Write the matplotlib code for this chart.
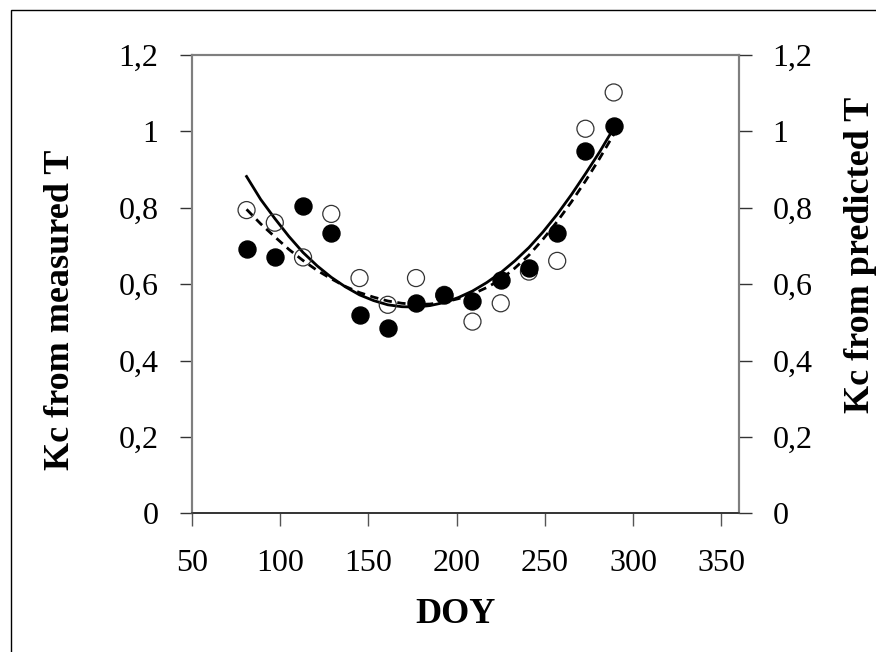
import matplotlib
matplotlib.use('Agg')
import matplotlib.pyplot as plt
import matplotlib.patches as patches

# sampling dates (DOY)
doy = [81, 97, 113, 129, 145, 161, 177, 193, 209, 225, 241, 257, 273, 289]

# Kc from measured T (filled) and from predicted T (open)
kc_meas = [0.691, 0.670, 0.805, 0.733, 0.519, 0.485, 0.552, 0.572, 0.557, 0.611, 0.643, 0.735, 0.950, 1.015]
kc_pred = [0.794, 0.761, 0.670, 0.784, 0.616, 0.546, 0.616, 0.572, 0.502, 0.550, 0.633, 0.661, 1.007, 1.102]

# trend lines
doy_fit = [81, 89, 97, 105, 113, 121, 129, 137, 145, 153, 161, 169, 177, 185,
           193, 201, 209, 217, 225, 233, 241, 249, 257, 265, 273, 281, 289]
fit_meas = [0.882, 0.822, 0.772, 0.725, 0.683, 0.648, 0.618, 0.593, 0.572, 0.557,
            0.546, 0.541, 0.540, 0.544, 0.552, 0.565, 0.582, 0.604, 0.630, 0.661,
            0.696, 0.737, 0.783, 0.834, 0.889, 0.946, 1.008]
fit_pred = [0.796, 0.758, 0.724, 0.691, 0.662, 0.636, 0.614, 0.594, 0.578, 0.566,
            0.556, 0.550, 0.547, 0.548, 0.553, 0.562, 0.574, 0.591, 0.612, 0.642,
            0.676, 0.718, 0.764, 0.815, 0.870, 0.929, 0.992]

xticks = [50, 100, 150, 200, 250, 300, 350]
yticks = [0, 0.2, 0.4, 0.6, 0.8, 1.0, 1.2]
ylabels = ['0', '0,2', '0,4', '0,6', '0,8', '1', '1,2']

plt.rcParams['font.family'] = ['Liberation Serif', 'DejaVu Serif']

fig = plt.figure(figsize=(8.76, 6.52), dpi=100)
ax = fig.add_axes([0.219, 0.2127, 0.8436 - 0.219, 0.9156 - 0.2127])

# outer frame (only left and top edges fall inside the picture)
fig.add_artist(patches.Rectangle((11 / 876, -0.1), 2.0, 1.1 - 10 / 652,
                                 transform=fig.transFigure, fill=False,
                                 edgecolor='black', linewidth=1.0))

ax.plot(doy_fit, fit_meas, color='black', linewidth=2.0, zorder=2)
ax.plot(doy_fit, fit_pred, color='black', linewidth=2.0, linestyle=(0, (3, 2)), zorder=2)
ax.scatter(doy, kc_pred, s=150, facecolors='none', edgecolors='#333333', linewidths=0.9, zorder=3)
ax.scatter(doy, kc_meas, s=150, color='black', zorder=4)

ax.set_xlim(50, 360)
ax.set_ylim(0, 1.2)
ax.set_xticks(xticks)
ax.set_xticklabels([str(t) for t in xticks])
ax.set_yticks(yticks)
ax.set_yticklabels(ylabels)

ax2 = ax.twinx()
ax2.set_ylim(0, 1.2)
ax2.set_yticks(yticks)
ax2.set_yticklabels(ylabels)

for a in (ax, ax2):
    for s in ['left', 'right', 'top']:
        a.spines[s].set_color('#7f7f7f')
        a.spines[s].set_linewidth(1.5)
    a.spines['bottom'].set_color('#333333')
    a.spines['bottom'].set_linewidth(1.2)
    a.tick_params(axis='y', direction='out', length=9, width=1, color='#333333',
                  labelsize=23, pad=15)

ax.tick_params(axis='x', direction='out', length=9, width=1, color='#555555',
               labelsize=23, pad=17)

ax.set_xlabel('DOY', fontsize=26, fontweight='bold')
ax.xaxis.set_label_coords(0.481, -0.185)
ax.set_ylabel('Kc from measured T', fontsize=26, fontweight='bold')
ax.yaxis.set_label_coords(-0.210, 0.444)
ax2.set_ylabel('Kc from predicted T', fontsize=26, fontweight='bold')
ax2.yaxis.set_label_coords(1.192, 0.564)

fig.savefig('out.png', dpi=100)
